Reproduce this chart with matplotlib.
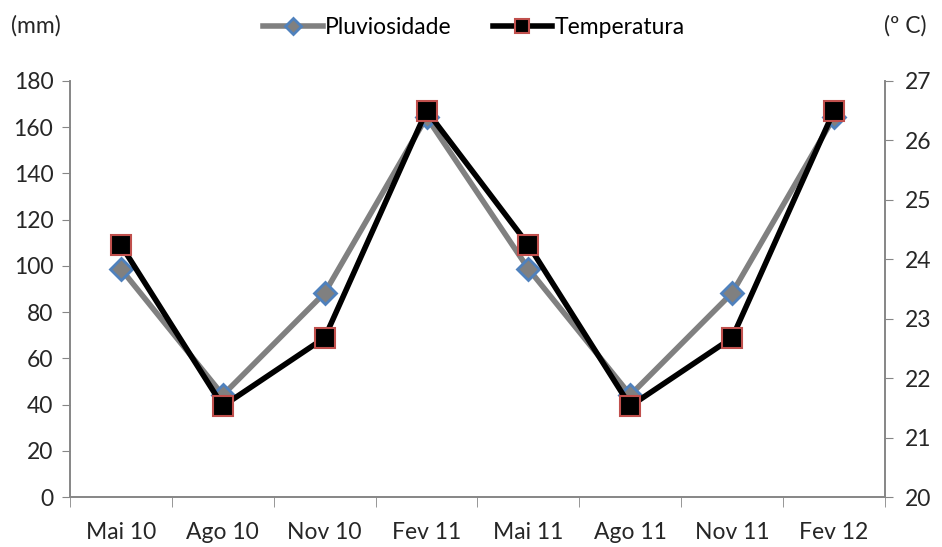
import matplotlib.pyplot as plt
from matplotlib.ticker import MultipleLocator, FixedLocator, NullFormatter

plt.rcParams['font.family'] = ['Liberation Sans Narrow', 'Lato', 'DejaVu Sans']

months = ['Mai 10', 'Ago 10', 'Nov 10', 'Fev 11', 'Mai 11', 'Ago 11', 'Nov 11', 'Fev 12']
rain_mm = [98.7, 44.1, 88.3, 164.4, 98.7, 44.1, 88.3, 164.4]
temp_c = [24.24, 21.53, 22.68, 26.5, 24.24, 21.53, 22.68, 26.5]

AXIS_GRAY = '#868686'
FS = 16.5

fig = plt.figure(figsize=(9.42, 5.47), dpi=100)
ax = fig.add_axes([0.0743, 0.0914, 0.8652, 0.7606])
ax2 = ax.twinx()

x = list(range(len(months)))
l1, = ax.plot(x, rain_mm, color='#808080', lw=4, marker='D', ms=11,
              mfc='#808080', mec='#4f81bd', mew=2, label='Pluviosidade', zorder=3)
l2, = ax2.plot(x, temp_c, color='black', lw=4, marker='s', ms=14,
               mfc='black', mec='#c0504d', mew=1.5, label='Temperatura', zorder=4)

ax.set_xlim(-0.5, len(months) - 0.5)
ax.set_ylim(0, 180)
ax2.set_ylim(20, 27)
ax.yaxis.set_major_locator(MultipleLocator(20))
ax2.yaxis.set_major_locator(MultipleLocator(1))

# category labels centred, ticks on the boundaries
ax.set_xticks(x)
ax.set_xticklabels(months)
ax.xaxis.set_minor_locator(FixedLocator([i - 0.5 for i in range(len(months) + 1)]))
ax.xaxis.set_minor_formatter(NullFormatter())
ax.tick_params(axis='x', which='major', length=0, pad=18, labelsize=FS, colors='#262626')
ax.tick_params(axis='x', which='minor', length=7, color=AXIS_GRAY, direction='out')
ax.tick_params(axis='y', length=6, color=AXIS_GRAY, labelsize=FS, labelcolor='#262626', pad=6)
ax2.tick_params(axis='y', length=6, color=AXIS_GRAY, labelsize=FS, labelcolor='#262626', pad=8)

for a in (ax, ax2):
    a.spines['top'].set_visible(False)
    for s in ('left', 'right', 'bottom'):
        a.spines[s].set_color(AXIS_GRAY)
        a.spines[s].set_linewidth(1.2)

fig.text(0.012, 0.952, '(mm)', fontsize=FS, color='#262626', va='center')
fig.text(0.938, 0.952, '(º C)', fontsize=FS, color='#262626', va='center')

fig.legend(handles=[l1, l2], loc='center', bbox_to_anchor=(0.503, 0.950), ncol=2,
           frameon=False, fontsize=FS, handlelength=2.6, handletextpad=0.1,
           columnspacing=1.8, borderpad=0, markerscale=0.75)

fig.savefig('out.png', dpi=100)
